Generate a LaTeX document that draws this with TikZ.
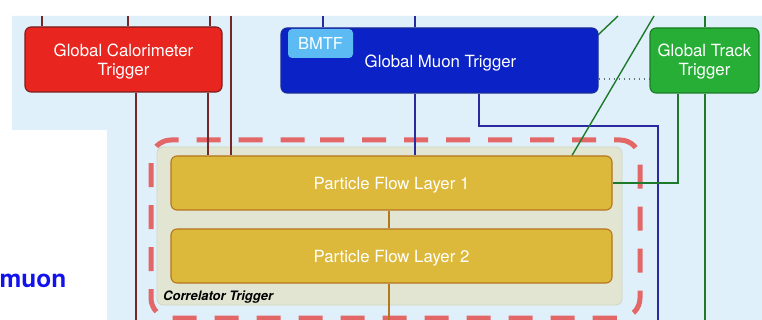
\documentclass[tikz,border=0pt]{standalone}
\usepackage{fontspec}
\setmainfont{TeX Gyre Heros}
\definecolor{skybg}{HTML}{DFF0FB}
\definecolor{calofill}{HTML}{E8261F}
\definecolor{caloedge}{HTML}{7A1D1D}
\definecolor{muonfill}{HTML}{0B22C6}
\definecolor{muonedge}{HTML}{1C2A96}
\definecolor{bmtffill}{HTML}{5CBBF2}
\definecolor{trackfill}{HTML}{27AE37}
\definecolor{trackedge}{HTML}{1B7B24}
\definecolor{corrfill}{HTML}{E1E5D1}
\definecolor{corredge}{HTML}{D2D7C1}
\definecolor{pffill}{HTML}{DDB93B}
\definecolor{pfedge}{HTML}{B4761E}
\definecolor{dashred}{HTML}{E36767}
\definecolor{redwire}{HTML}{762626}
\definecolor{bluewire}{HTML}{2A2AA0}
\definecolor{greenwire}{HTML}{1E7A2A}
\definecolor{dotwire}{HTML}{5A7470}
\definecolor{muonword}{HTML}{1212EE}
\pgfdeclarelayer{backdrop}
\pgfdeclarelayer{wires}
\pgfsetlayers{backdrop,wires,main}
\begin{document}
\begin{tikzpicture}[x=1pt,y=-1pt,
  box/.style={draw, line width=1.1pt, rounded corners=6pt, inner sep=0pt},
  boxtext/.style={inner sep=0pt, align=center, text=white,
    font=\fontsize{16.8}{19.5}\selectfont},
  calobox/.style={box, fill=calofill, draw=caloedge},
  muonbox/.style={box, fill=muonfill, draw=muonedge},
  trackbox/.style={box, fill=trackfill, draw=trackedge},
  pfbox/.style={box, boxtext, fill=pffill, draw=pfedge, minimum width=441pt,
    minimum height=54pt, text height=12.4pt, text depth=0pt},
  badge/.style={rounded corners=4pt, fill=bmtffill, inner sep=0pt, text=white,
    font=\fontsize{16.5}{18}\selectfont, minimum width=65pt, minimum height=29pt},
  redline/.style={draw=redwire, line width=1.4pt},
  blueline/.style={draw=bluewire, line width=1.4pt},
  greenline/.style={draw=greenwire, line width=1.4pt},
  pfline/.style={draw=pfedge, line width=1.4pt},
  dotline/.style={draw=dotwire, line width=1.4pt, dash pattern=on 1.4pt off 3.6pt},
  fence/.style={draw=dashred, line width=5pt, rounded corners=20pt,
    dash pattern=on 24pt off 18pt}
]
\useasboundingbox (0,0) rectangle (762,320);

% trigger boxes
\node[calobox, minimum width=197pt, minimum height=65pt] (gct) at (123.5,59.5) {};
\node[boxtext] (gctlabel) at (123.5,61.5) {Global Calorimeter\\Trigger};
\node[muonbox, minimum width=317pt, minimum height=65pt] (gmt) at (439.5,60.5) {};
\node[boxtext, anchor=base] (gmtlabel) at (440.5,68) {Global Muon Trigger};
\node[badge] (bmtf) at (320.5,43.5) {BMTF};
\node[trackbox, minimum width=109pt, minimum height=65pt] (gtt) at (704.5,60.5) {};
\node[boxtext] (gttlabel) at (704.5,61.5) {Global Track\\Trigger};
\node[pfbox] (pf1) at (391.5,183) {Particle Flow Layer 1};
\node[pfbox] (pf2) at (391.5,256) {Particle Flow Layer 2};

\node[anchor=base west, inner sep=0pt, font=\fontsize{13}{15}\selectfont\bfseries\itshape] (corrlabel) at (163,300.5) {Correlator Trigger};
\node[anchor=base east, inner sep=0pt, text=muonword, font=\fontsize{24.5}{28}\selectfont\bfseries] (muonlabel) at (66.5,287) {muon};

% page, sky panel, correlator area and its dashed fence
\begin{pgfonlayer}{backdrop}
  \fill[white] (0,0) rectangle (762,320);
  \fill[skybg] (12,16) -- (762,16) -- (762,320) -- (107,320) -- (107,130) -- (12,130) -- cycle;
  \node[draw=corredge, fill=corrfill, line width=0.8pt, rounded corners=6pt,
    minimum width=465pt, minimum height=158pt, inner sep=0pt] (corr) at (389.5,226) {};
  \draw[fence] (300,140) -- (640,140) -- (640,318) -- (151,318) -- (151,140) -- cycle;
\end{pgfonlayer}

% wire end points and routing columns
\coordinate (ra) at (42,16);
\coordinate (rb) at (128,16);
\coordinate (rc) at (210,16);
\coordinate (rd) at (231,16);
\coordinate (re) at (136,320);
\coordinate (rf) at (208,0);
\coordinate (ba) at (323,16);
\coordinate (bb) at (415,16);
\coordinate (bc) at (479,0);
\coordinate (bturn) at (479,126);
\coordinate (bend) at (658,320);
\coordinate (ga) at (705,16);
\coordinate (gb) at (678,0);
\coordinate (gc) at (705,320);
\coordinate (gd) at (654,16);
\coordinate (gdend) at (572,0);
\coordinate (ge) at (618,16);
\coordinate (geend) at (589,43.5);
\coordinate (pa) at (389,0);
\coordinate (pend) at (389,320);
\coordinate (dotrow) at (0,79);

\begin{pgfonlayer}{wires}
  % calorimeter wires
  \draw[redline] (ra) -- (ra |- gct.north);
  \draw[redline] (rb) -- (rb |- gct.north);
  \draw[redline] (rc) -- (rc |- gct.north);
  \draw[redline] (rd) -- (rd |- pf1.north);
  \draw[redline] (re |- gct.south) -- (re);
  \draw[redline] (rf |- gct.south) -- (rf |- pf1.north);
  % muon wires
  \draw[blueline] (ba) -- (ba |- gmt.north);
  \draw[blueline] (bb) -- (bb |- gmt.north);
  \draw[blueline] (bb |- gmt.south) -- (bb |- pf1.north);
  \draw[blueline] (bc |- gmt.south) -- (bturn) -| (bend);
  % track wires
  \draw[greenline] (ga) -- (ga |- gtt.north);
  \draw[greenline] (gb |- gtt.south) |- (pf1.east);
  \draw[greenline] (gc |- gtt.south) -- (gc);
  \draw[greenline] (gd) -- (gdend |- pf1.north);
  \draw[greenline] (ge) -- (geend);
  % particle flow chain
  \draw[pfline] (pa |- pf1.south) -- (pa |- pf2.north);
  \draw[pfline] (pa |- pf2.south) -- (pend);
  % dotted link between muon and track triggers
  \draw[dotline] (gmt.east |- dotrow) -- (gtt.west |- dotrow);
\end{pgfonlayer}
\end{tikzpicture}
\end{document}
